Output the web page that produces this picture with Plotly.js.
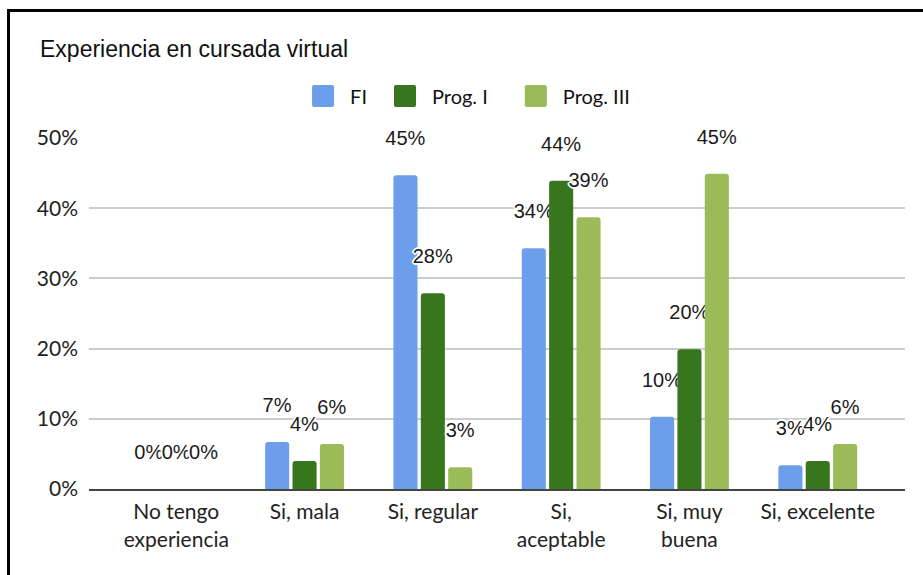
<!DOCTYPE html>
<html>
<head>
<meta charset="utf-8">
<script src="https://cdn.plot.ly/plotly-3.0.1.min.js"></script>
<style>
html,body{margin:0;padding:0;background:#fff;}
#chart{width:923px;height:575px;}
#frame{position:absolute;left:7px;top:9px;width:940px;height:600px;border:3px solid #000;box-sizing:border-box;pointer-events:none;}
</style>
</head>
<body>
<div id="chart"></div>
<div id="frame"></div>
<script>
const categories = ["No tengo<br>experiencia", "Si, mala", "Si, regular", "Si,<br>aceptable", "Si, muy<br>buena", "Si, excelente"];
const seriesNames = ["FI", "Prog. I", "Prog. III"];
const fi = [0, 0.067, 0.447, 0.343, 0.103, 0.034];
const progI = [0, 0.040, 0.279, 0.439, 0.199, 0.040];
const progIII = [0, 0.064, 0.031, 0.387, 0.449, 0.064];
const colors = ["#6d9eeb", "#38761d", "#9bbb59"];
const yTicks = [0, 0.1, 0.2, 0.3, 0.4, 0.5];

const halo = "-1px -1px 0 #fff, 1px -1px 0 #fff, -1px 1px 0 #fff, 1px 1px 0 #fff, 0 -2px 0 #fff, 0 2px 0 #fff, -2px 0 0 #fff, 2px 0 0 #fff";
const allSeries = [fi, progI, progIII];
const traces = allSeries.map((vals, i) => ({
  type: "bar",
  name: seriesNames[i],
  x: categories,
  y: vals,
  marker: {color: colors[i], cornerradius: 3},
  texttemplate: "%{y:.0%}<br> ",
  textposition: "outside",
  constraintext: "none",
  cliponaxis: false,
  textfont: {family: "Liberation Sans, Arial, sans-serif", size: 20, color: "#1a1a1a", shadow: halo},
  hoverinfo: "skip"
}));

const layout = {
  width: 923, height: 575,
  margin: {l: 89, r: 18, t: 138, b: 86},
  paper_bgcolor: "#fff", plot_bgcolor: "#fff",
  barmode: "group",
  bargap: 0.36,
  bargroupgap: 0.12,
  title: {text: "Experiencia en cursada virtual", x: 40 / 923, xref: "container", xanchor: "left", y: 0.915, yanchor: "middle",
          font: {family: "Liberation Sans, Arial, sans-serif", size: 23, color: "#111"}},
  showlegend: true,
  legend: {orientation: "h", x: 0.448, xanchor: "center", y: 1.12, yanchor: "middle", bgcolor: "rgba(0,0,0,0)",
           font: {family: "Lato, sans-serif", size: 20, color: "#111"}, itemwidth: 44, tracegroupgap: 0},
  xaxis: {range: [-0.68, 5.68], showgrid: false, showline: true, linecolor: "#444", linewidth: 2,
          ticks: "", ticklabelstandoff: 3, tickfont: {family: "Lato, sans-serif", size: 21, color: "#222"}, fixedrange: true},
  yaxis: {range: [0, 0.5], tickvals: yTicks, tickformat: ".0%", showgrid: true, gridcolor: "#cccccc", gridwidth: 2,
          zeroline: false, showline: false, ticks: "", ticklabelstandoff: 10,
          tickfont: {family: "Lato, sans-serif", size: 21, color: "#222"}, fixedrange: true}
};
Plotly.newPlot("chart", traces, layout, {displayModeBar: false, staticPlot: true}).then(gd => {
  const sq = "M-9,-11H9A2,2 0 0 1 11,-9V9A2,2 0 0 1 9,11H-9A2,2 0 0 1 -11,9V-9A2,2 0 0 1 -9,-11Z";
  gd.querySelectorAll(".legend .legendpoints path").forEach(p => p.setAttribute("d", sq));
  gd.querySelectorAll(".legend [clip-path]").forEach(el => el.removeAttribute("clip-path"));
  const legendShift = [0, 6, 22];
  gd.querySelectorAll(".legend .traces").forEach((g, i) => {
    const t = g.getAttribute("transform") || "";
    g.setAttribute("transform", t + " translate(" + legendShift[i] + ",0)");
  });
  gd.querySelectorAll(".bartext").forEach(t => {
    const tr = t.getAttribute("transform") || "";
    t.setAttribute("transform", "translate(0,3) " + tr);
  });
});
</script>
</body>
</html>
